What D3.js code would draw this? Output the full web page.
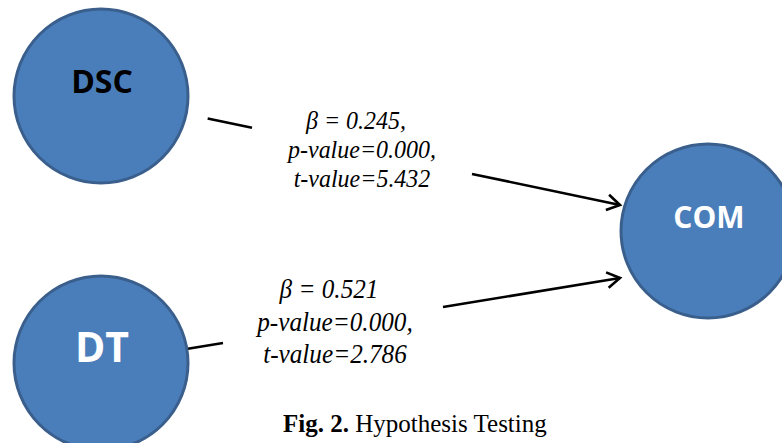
<!DOCTYPE html>
<html>
<head>
<meta charset="utf-8">
<script src="https://cdn.jsdelivr.net/npm/d3@7/dist/d3.min.js"></script>
<style>
  html, body { margin: 0; padding: 0; background: #ffffff; }
  svg { display: block; }
</style>
</head>
<body>
<svg id="chart" width="782" height="443"></svg>
<script>
// ---- data ----
const sources = ["DSC", "DT"];
const target = "COM";
const betas = [0.245, 0.521];
const betaPunct = [",", ""];
const pValues = [0.000, 0.000];
const tValues = [5.432, 2.786];
const labelColors = ["#000000", "#ffffff", "#ffffff"]; // DSC, DT, COM label colours
const captionBold = "Fig. 2.";
const captionText = "Hypothesis Testing";

// ---- layout ----
const svg = d3.select("#chart");
const R = 87;
const colX = d3.scaleOrdinal().domain(["source", "target"]).range([101, 708]);
const rowY = d3.scalePoint().domain(sources).range([96, 363]);
const targetY = 231;

const nodes = sources.map((s, i) => ({ name: s, x: colX("source"), y: rowY(s), color: labelColors[i] }))
  .concat([{ name: target, x: colX("target"), y: targetY, color: labelColors[2] }]);

const fill = "#4a7ebb", stroke = "#3a5f8c";

const edgeGeom = [
  { startDist: 109, tip: [620, 205], gap: [252, 472] },
  { startDist: 88, tip: [620, 278], gap: [223, 443] }
];

const fmt = d3.format(".3f");

sources.forEach((s, i) => {
  const src = nodes[i];
  const g = edgeGeom[i];
  const dx = g.tip[0] - src.x, dy = g.tip[1] - src.y;
  const len = Math.hypot(dx, dy);
  const ux = dx / len, uy = dy / len;
  const x0 = src.x + ux * g.startDist, y0 = src.y + uy * g.startDist;
  const slope = dy / dx;
  const yAt = x => src.y + (x - src.x) * slope;
  svg.append("line")
    .attr("x1", x0).attr("y1", y0)
    .attr("x2", g.gap[0]).attr("y2", yAt(g.gap[0]))
    .attr("stroke", "#000").attr("stroke-width", 2.6);
  svg.append("line")
    .attr("x1", g.gap[1]).attr("y1", yAt(g.gap[1]))
    .attr("x2", g.tip[0]).attr("y2", g.tip[1])
    .attr("stroke", "#000").attr("stroke-width", 2.6);
  const ang = Math.atan2(dy, dx);
  const al = 15, aw = 0.55;
  const p1 = [g.tip[0] - al * Math.cos(ang - aw), g.tip[1] - al * Math.sin(ang - aw)];
  const p2 = [g.tip[0] - al * Math.cos(ang + aw), g.tip[1] - al * Math.sin(ang + aw)];
  svg.append("path")
    .attr("d", d3.line()([p1, g.tip, p2]))
    .attr("fill", "none").attr("stroke", "#000").attr("stroke-width", 2.6)
    .attr("stroke-linejoin", "miter");
});

svg.selectAll("circle.node").data(nodes).enter().append("circle")
  .attr("class", "node")
  .attr("cx", d => d.x).attr("cy", d => d.y).attr("r", R)
  .attr("fill", fill).attr("stroke", stroke).attr("stroke-width", 3);

const nodeFont = { DSC: 32, DT: 41, COM: 30 };
const nodeBase = { DSC: -3, DT: -1, COM: -3 };
svg.selectAll("text.node").data(nodes).enter().append("text")
  .attr("class", "node")
  .attr("x", d => d.x + 1)
  .attr("y", d => d.y + nodeBase[d.name])
  .attr("text-anchor", "middle")
  .attr("font-family", "'Open Sans', sans-serif")
  .attr("font-weight", 700)
  .attr("font-size", d => nodeFont[d.name])
  .attr("fill", d => d.color)
  .text(d => d.name);

const labelGeom = [
  { cx: 362, base: [129, 158, 187], fs: 25.5, sq: 0.94, betaShift: -6 },
  { cx: 335, base: [298, 331, 363], fs: 28, sq: 0.9, betaShift: -6 }
];
sources.forEach((s, i) => {
  const L = labelGeom[i];
  const lines = [
    `β = ${fmt(betas[i])}${betaPunct[i]}`,
    `p-value=${fmt(pValues[i])},`,
    `t-value=${fmt(tValues[i])}`
  ];
  lines.forEach((ln, k) => {
    svg.append("text")
      .attr("transform", `translate(${L.cx + (k === 0 ? L.betaShift : 0)},${L.base[k]}) scale(${L.sq},1)`)
      .attr("text-anchor", "middle")
      .attr("font-family", "'Liberation Serif', 'Times New Roman', serif")
      .attr("font-style", "italic")
      .attr("font-size", L.fs)
      .attr("fill", "#000")
      .text(ln);
  });
});

const cap = svg.append("text")
  .attr("x", 283).attr("y", 432)
  .attr("font-family", "'Liberation Serif', 'Times New Roman', serif")
  .attr("font-size", 25)
  .attr("fill", "#000");
cap.append("tspan").attr("font-weight", 700).text(captionBold);
cap.append("tspan").text("\u00a0" + captionText);
</script>
</body>
</html>
